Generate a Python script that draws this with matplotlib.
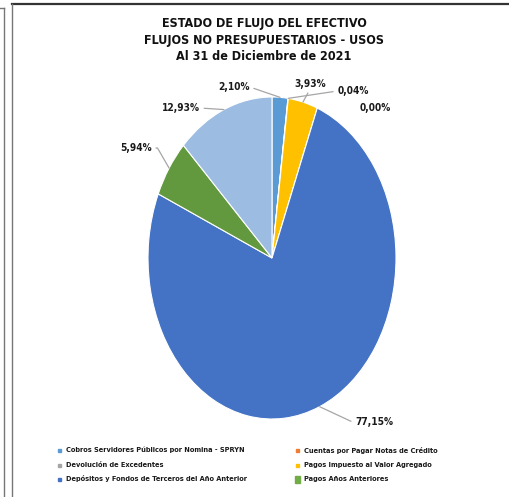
import matplotlib
matplotlib.use("Agg")
import matplotlib.pyplot as plt
import numpy as np
from matplotlib.lines import Line2D
from matplotlib.patches import Rectangle

# slices, clockwise from 12 o'clock
categories = [
    "Cobros Servidores Públicos por Nomina - SPRYN",
    "Cuentas por Pagar Notas de Crédito",
    "Pagos Impuesto al Valor Agregado",
    "Devolución de Excedentes",
    "Depósitos y Fondos de Terceros del Año Anterior",
    "Pagos Años Anteriores",
    "Otros",
]
values = [2.10, 0.04, 3.93, 0.00, 77.15, 5.94, 12.93]
colors = ["#5B9BD5", "#ED7D31", "#FFC000", "#A5A5A5", "#4472C4", "#62993E", "#9DBCE2"]

# legend as it appears (row by row, two columns)
legend_names = [
    "Cobros Servidores Públicos por Nomina - SPRYN",
    "Cuentas por Pagar Notas de Crédito",
    "Devolución de Excedentes",
    "Pagos Impuesto al Valor Agregado",
    "Depósitos y Fondos de Terceros del Año Anterior",
    "Pagos Años Anteriores",
]
legend_colors = ["#5B9BD5", "#ED7D31", "#A5A5A5", "#FFC000", "#4472C4", "#70AD47"]

title_lines = ["ESTADO DE FLUJO DEL EFECTIVO",
               "FLUJOS NO PRESUPUESTARIOS - USOS",
               "Al 31 de Diciembre de 2021"]

W, H = 509, 497
fig = plt.figure(figsize=(W / 100, H / 100), dpi=100)
narrow = dict(family="DejaVu Sans", fontstretch="condensed")

# frame lines (the chart area border)
fig.add_artist(Line2D([12 / W, 1], [1 - 3.5 / H, 1 - 3.5 / H], color="#333333", lw=1.6))
fig.add_artist(Line2D([12 / W, 12 / W], [0, 1 - 3.5 / H], color="#777777", lw=1.0))
fig.add_artist(Line2D([4 / W, 4 / W], [0, 1 - 7.5 / H], color="#777777", lw=1.0))
fig.add_artist(Line2D([0, 4 / W], [1 - 7.5 / H, 1 - 7.5 / H], color="#777777", lw=1.0))

# title
for i, line in enumerate(title_lines):
    fig.text(264 / W, 1 - (24 + i * 16.5) / H, line, ha="center", va="center",
             fontsize=9.0, fontweight="bold", color="#111111", **narrow)

# pie (elliptical like the original)
ax = fig.add_axes([148 / W, 78 / H, 248 / W, 322 / H])
wedges, _ = ax.pie(values, colors=colors, startangle=90, counterclock=False,
                   wedgeprops=dict(edgecolor="white", linewidth=0.8))
ax.set_aspect("auto")
ax.set_xlim(-1, 1)
ax.set_ylim(-1, 1)
ax.axis("off")

# label placement in pixels (x, y from top), and how the leader attaches
label_pos = [(234, 87), (353, 91), (310, 84), (375, 108), (374, 422), (136, 148), (181, 108)]
label_rel = [(1, 0.5), (0, 0.5), (0.5, 0), None, (0, 0.5), (1, 0.5), (1, 0.5)]
label_conn = ["arc3", "arc3", "arc3", None, "angle,angleA=0,angleB=-25,rad=0",
              "angle,angleA=0,angleB=-60,rad=0", "arc3"]

for w, v, pos, rel, conn in zip(wedges, values, label_pos, label_rel, label_conn):
    mid = np.deg2rad((w.theta1 + w.theta2) / 2)
    pt = (np.cos(mid), np.sin(mid))
    txt = f"{v:.2f}%".replace(".", ",")
    xy_text = (pos[0], H - pos[1])
    kw = dict(xy=pt, xytext=xy_text, textcoords="figure pixels",
              ha="center", va="center", fontsize=7.3, fontweight="bold",
              color="#1a1a1a", annotation_clip=False, **narrow)
    if rel is not None:
        kw["arrowprops"] = dict(arrowstyle="-", color="#A6A6A6", lw=0.9,
                                shrinkA=1, shrinkB=0, relpos=rel,
                                connectionstyle=conn)
    ax.annotate(txt, **kw)

# legend drawn by hand: two columns, three rows
col_x = [59, 297]
row_y = [450, 465, 479]
for i, (name, c) in enumerate(zip(legend_names, legend_colors)):
    cx = col_x[i % 2]
    cy = row_y[i // 2]
    if i == 5:
        sw, sh = 5, 7
    else:
        sw, sh = 3, 3
    fig.add_artist(Rectangle(((cx - sw / 2) / W, (H - cy - sh / 2) / H), sw / W, sh / H,
                             color=c, transform=fig.transFigure))
    fig.text((cx + 7) / W, 1 - cy / H, name, ha="left", va="center",
             fontsize=5.3, fontweight="bold", color="#1a1a1a", **narrow)

fig.savefig("out.png", dpi=100)
